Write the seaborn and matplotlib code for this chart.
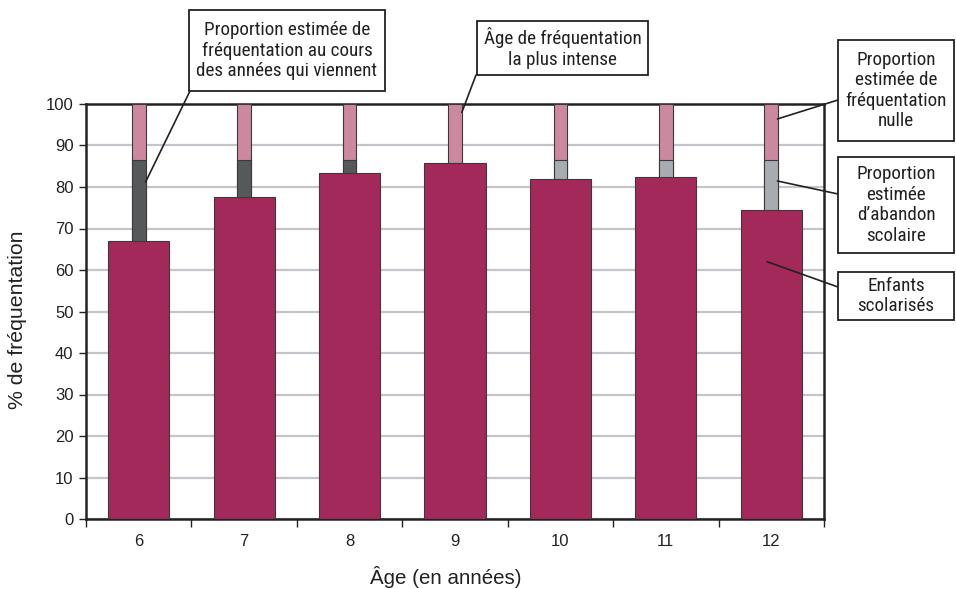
import matplotlib
matplotlib.use("Agg")
import matplotlib.pyplot as plt
from matplotlib.patches import Rectangle
from matplotlib.ticker import FixedLocator
import numpy as np
import pandas as pd
import seaborn as sns

# ---- data ----
ages = ["6", "7", "8", "9", "10", "11", "12"]
enrolled = [67.0, 77.5, 83.3, 85.8, 82.0, 82.4, 74.5]      # Enfants scolarisés
upper = [86.4, 86.4, 86.4, 85.8, 86.4, 86.4, 86.4]          # top of grey segment
total = [100, 100, 100, 100, 100, 100, 100]
grey_colors = ["#55595A", "#55595A", "#55595A", "#A8ABB0", "#A8ABB0", "#A8ABB0", "#A8ABB0"]
yticks = list(range(0, 101, 10))

box_texts = [
    "Proportion estimée de\nfréquentation au cours\ndes années qui viennent",
    "Âge de fréquentation\nla plus intense",
    "Proportion\nestimée de\nfréquentation\nnulle",
    "Proportion\nestimée\nd’abandon\nscolaire",
    "Enfants\nscolarisés",
]

df = pd.DataFrame({"age": ages, "enrolled": enrolled, "upper": upper, "total": total})

sns.set_theme(style="white")
NARROW = ["Roboto Condensed", "DejaVu Sans"]
plt.rcParams["font.family"] = ["Liberation Sans", "DejaVu Sans"]

W, H = 956, 589
fig = plt.figure(figsize=(W / 100, H / 100), dpi=100)
ax = fig.add_axes([86 / W, 1 - 519 / H, (824 - 86) / W, (519 - 104) / H])

MAROON = "#A2295A"
PINK = "#CC889F"
EDGE = "#3A3A3A"

sns.barplot(data=df, x="age", y="total", color=PINK, width=0.13, edgecolor=EDGE,
            linewidth=0.8, saturation=1, ax=ax, zorder=3)
sns.barplot(data=df, x="age", y="upper", hue="age", palette=grey_colors, dodge=False,
            width=0.13, edgecolor=EDGE, linewidth=0.8, saturation=1, ax=ax,
            legend=False, zorder=3)
sns.barplot(data=df, x="age", y="enrolled", color=MAROON, width=0.58, edgecolor=EDGE,
            linewidth=0.8, saturation=1, ax=ax, zorder=3)

ax.set_xlim(-0.5, len(ages) - 0.5)
ax.set_ylim(0, 100)
ax.yaxis.set_major_locator(FixedLocator(yticks))
ax.set_yticklabels([str(t) for t in yticks], fontsize=12, color="#222")
ax.set_xticks(range(len(ages)))
ax.set_xticklabels(ages, fontsize=12, color="#222")
ax.xaxis.set_minor_locator(FixedLocator(np.arange(-0.5, len(ages), 1.0)))
ax.tick_params(axis="x", which="major", length=0, pad=11, bottom=True)
ax.tick_params(axis="x", which="minor", length=6, width=1, direction="out",
               color="#222", bottom=True)
ax.tick_params(axis="y", which="major", length=5, width=1, direction="out",
               color="#222", pad=4, left=True)
ax.yaxis.grid(True, color="#C4C4CC", linewidth=1.6, zorder=0)
ax.xaxis.grid(False)
ax.set_axisbelow(True)
for s in ax.spines.values():
    s.set_visible(True)
    s.set_color("#222222")
    s.set_linewidth(1.8)

ax.set_xlabel("Âge (en années)", fontsize=14.8, color="#222", va="center")
ax.xaxis.set_label_coords((445.5 - 86) / 738, (519 - 577) / 415)
ax.set_ylabel("% de fréquentation", fontsize=15.3, color="#222", va="center")
ax.yaxis.set_label_coords((18 - 86) / 738, (519 - 320) / 415)

# ---- annotation boxes (image pixel coords) ----
def fx(x):
    return x / W

def fy(y):
    return 1 - y / H

boxes = [(189, 10, 385, 91), (477, 21, 648, 75), (838, 40, 954, 141),
         (838, 157, 954, 253), (838, 272, 954, 320)]
for (x0, y0, x1, y1), txt in zip(boxes, box_texts):
    fig.patches.append(Rectangle((fx(x0), fy(y1)), fx(x1) - fx(x0), fy(y0) - fy(y1),
                                 transform=fig.transFigure, facecolor="white",
                                 edgecolor="#222", linewidth=1.3, zorder=5))
    fig.text(fx((x0 + x1) / 2), fy((y0 + y1) / 2), txt, ha="center", va="center",
             fontsize=13.8, fontfamily=NARROW, linespacing=1.18, color="#222", zorder=6)

# leader lines: (data point on bar) -> (image pixel point on box)
half = 0.065
leaders = [
    ((0 + half, (enrolled[0] + upper[0]) / 2 + 4.5), (190, 91)),
    ((3 + half, 98), (476, 75)),
    ((6 + half * 0.9, 96.4), (838, 100)),
    ((6 + half * 0.9, (enrolled[6] + upper[6]) / 2 + 1), (838, 194)),
    ((6 - 0.04, 62), (838, 287)),
]
for (xy, (px, py)) in leaders:
    ax.annotate("", xy=xy, xycoords="data", xytext=(px, H - py),
                textcoords="figure pixels",
                arrowprops=dict(arrowstyle="-", color="#222", lw=1.2,
                                shrinkA=0, shrinkB=0), annotation_clip=False, zorder=4)

fig.savefig("out.png", dpi=100)
